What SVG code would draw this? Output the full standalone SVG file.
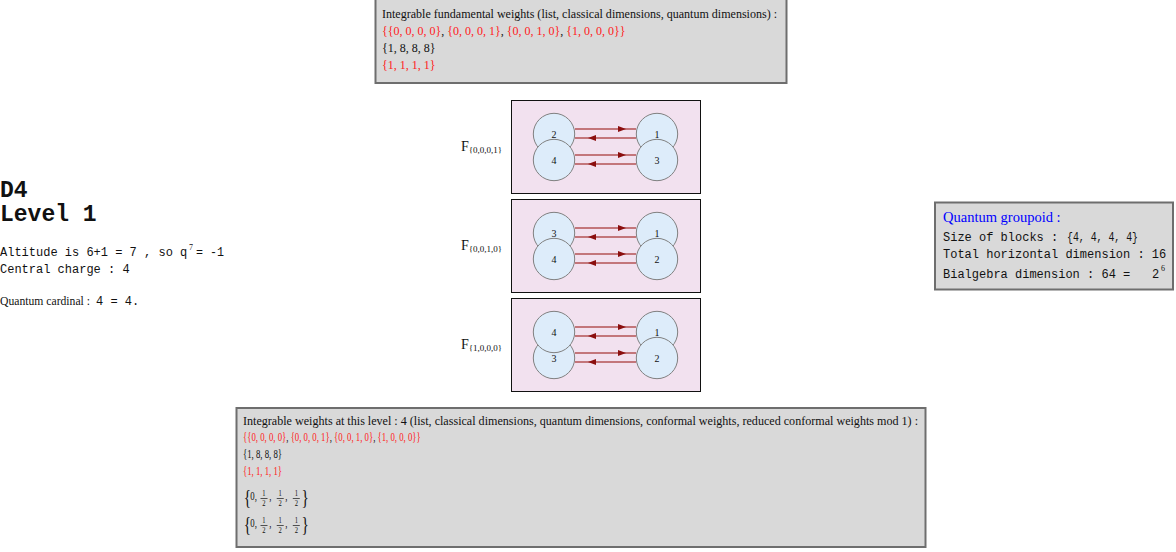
<svg xmlns="http://www.w3.org/2000/svg" width="1176" height="552" viewBox="0 0 1176 552">
<style>
.info{fill:#d9d9d9;stroke:#6e6e6e;stroke-width:2}
.panel{fill:#f2e1ef;stroke:#111;stroke-width:1}
.node circle{fill:#ddecfa;stroke:#808080;stroke-width:1}
.nl{font-family:"Liberation Serif",serif;font-size:10px;text-anchor:middle;fill:#111}
.s{font-family:"Liberation Serif",serif;font-size:12px;fill:#111}
.m{font-family:"Liberation Mono",monospace;font-size:12px;fill:#111}
.sup{font-family:"Liberation Serif",serif;font-size:8px;fill:#111}
.F{font-family:"Liberation Serif",serif;font-size:14px;fill:#111}
.sub{font-size:9px}
.r{fill:#ff1a1a}
.k{fill:#111}
.edge{fill:none;stroke:#a83a3a;stroke-width:1.3;stroke-opacity:0.85;marker-mid:url(#ah)}
.fr{font-family:"Liberation Serif",serif;font-size:9px;text-anchor:middle;fill:#111}
.br{font-family:"Liberation Serif",serif;font-size:21px;fill:#111}
</style>
<defs>
<marker id="ah" viewBox="0 0 8 6" refX="8" refY="3" markerWidth="8" markerHeight="6" markerUnits="userSpaceOnUse" orient="auto">
<path d="M0,0 L8,3 L0,6 Z" fill="#8b0f0f"/>
</marker>
</defs>
<rect width="1176" height="552" fill="#fff"/>

<g id="fundamental-weights">
<rect class="info" x="375.5" y="-1" width="411" height="84"/>
<text class="s" x="382" y="18" textLength="395" lengthAdjust="spacingAndGlyphs">Integrable fundamental weights (list, classical dimensions, quantum dimensions) :</text>
<text class="s" x="382" y="35"><tspan class="r">{{0, 0, 0, 0}</tspan><tspan class="k">, </tspan><tspan class="r">{0, 0, 0, 1}</tspan><tspan class="k">, </tspan><tspan class="r">{0, 0, 1, 0}</tspan><tspan class="k">, </tspan><tspan class="r">{1, 0, 0, 0}}</tspan></text>
<text class="s" x="382" y="52">{1, 8, 8, 8}</text>
<text class="s r" x="382" y="69">{1, 1, 1, 1}</text>
</g>

<g id="title">
<text x="0" y="197" font-family="Liberation Mono,monospace" font-size="23" font-weight="bold" fill="#111">D4</text>
<text x="0" y="221" font-family="Liberation Mono,monospace" font-size="23" font-weight="bold" fill="#111">Level 1</text>
<text class="m" x="0" y="256">Altitude is 6+1 = 7 , so q</text>
<text class="sup" x="189" y="250">7</text>
<text class="m" x="196" y="256" textLength="28" lengthAdjust="spacingAndGlyphs">= -1</text>
<text class="m" x="0" y="273">Central charge : 4</text>
<text class="s" x="0" y="305" textLength="90" lengthAdjust="spacingAndGlyphs">Quantum cardinal :</text>
<text class="m" x="96" y="305">4 = 4.</text>
</g>

<g id="quantum-groupoid">
<rect class="info" x="935" y="202.5" width="238" height="87"/>
<text x="943" y="222" font-family="Liberation Serif,serif" font-size="14.5" fill="#0000ff">Quantum groupoid :</text>
<text class="m" x="943" y="241">Size of blocks : </text>
<text class="m" x="1067" y="241" textLength="71" lengthAdjust="spacingAndGlyphs">{4, 4, 4, 4}</text>
<text class="m" x="943" y="258">Total horizontal dimension : 16</text>
<text class="m" x="943" y="278">Bialgebra dimension : 64 =</text>
<text class="m" x="1152" y="278">2</text>
<text class="sup" x="1161" y="271">6</text>
</g>

<g id="panel-F0001">
<rect class="panel" x="511.5" y="100.5" width="189" height="93"/>
<text class="F" x="461" y="151">F<tspan class="sub" dy="2">{0,0,0,1}</tspan></text>
</g>
<g id="panel-F0010">
<rect class="panel" x="511.5" y="199.5" width="189" height="93"/>
<text class="F" x="461" y="250">F<tspan class="sub" dy="2">{0,0,1,0}</tspan></text>
</g>
<g id="panel-F1000">
<rect class="panel" x="511.5" y="298.5" width="189" height="93"/>
<text class="F" x="461" y="349">F<tspan class="sub" dy="2">{1,0,0,0}</tspan></text>
</g>

<g id="connectors">
<path class="edge" d="M575,129 L626,129 L636,129"/>
<path class="edge" d="M636,138 L588,138 L575,138"/>
<path class="edge" d="M575,155 L626,155 L636,155"/>
<path class="edge" d="M636,164 L588,164 L575,164"/>
<path class="edge" d="M575,228 L626,228 L636,228"/>
<path class="edge" d="M636,237 L588,237 L575,237"/>
<path class="edge" d="M575,254 L626,254 L636,254"/>
<path class="edge" d="M636,263 L588,263 L575,263"/>
<path class="edge" d="M575,327 L626,327 L636,327"/>
<path class="edge" d="M636,336 L588,336 L575,336"/>
<path class="edge" d="M575,353 L626,353 L636,353"/>
<path class="edge" d="M636,362 L588,362 L575,362"/>
</g>

<g id="p1-n2" class="node"><circle cx="554" cy="134" r="20.7"/><text class="nl" x="554" y="138">2</text></g>
<g id="p1-n4" class="node"><circle cx="554" cy="160" r="20.7"/><text class="nl" x="554" y="164">4</text></g>
<g id="p1-n1" class="node"><circle cx="657" cy="134" r="20.7"/><text class="nl" x="657" y="138">1</text></g>
<g id="p1-n3" class="node"><circle cx="657" cy="160" r="20.7"/><text class="nl" x="657" y="164">3</text></g>
<g id="p2-n3" class="node"><circle cx="554" cy="233" r="20.7"/><text class="nl" x="554" y="237">3</text></g>
<g id="p2-n4" class="node"><circle cx="554" cy="259" r="20.7"/><text class="nl" x="554" y="263">4</text></g>
<g id="p2-n1" class="node"><circle cx="657" cy="233" r="20.7"/><text class="nl" x="657" y="237">1</text></g>
<g id="p2-n2" class="node"><circle cx="657" cy="259" r="20.7"/><text class="nl" x="657" y="263">2</text></g>
<g id="p3-n3" class="node"><circle cx="554" cy="358" r="20.7"/><text class="nl" x="554" y="362">3</text></g>
<g id="p3-n4" class="node"><circle cx="554" cy="332" r="20.7"/><text class="nl" x="554" y="336">4</text></g>
<g id="p3-n1" class="node"><circle cx="657" cy="332" r="20.7"/><text class="nl" x="657" y="336">1</text></g>
<g id="p3-n2" class="node"><circle cx="657" cy="358" r="20.7"/><text class="nl" x="657" y="362">2</text></g>

<g id="integrable-weights">
<rect class="info" x="236.5" y="408" width="689" height="139"/>
<text class="s" x="243" y="425" textLength="675" lengthAdjust="spacingAndGlyphs">Integrable weights at this level : 4 (list, classical dimensions, quantum dimensions, conformal weights, reduced conformal weights mod 1) :</text>
<g transform="translate(243 0) scale(0.73 1)">
<text class="s" x="0" y="441"><tspan class="r">{{0, 0, 0, 0}</tspan><tspan class="k">, </tspan><tspan class="r">{0, 0, 0, 1}</tspan><tspan class="k">, </tspan><tspan class="r">{0, 0, 1, 0}</tspan><tspan class="k">, </tspan><tspan class="r">{1, 0, 0, 0}}</tspan></text>
<text class="s" x="0" y="458">{1, 8, 8, 8}</text>
<text class="s r" x="0" y="475">{1, 1, 1, 1}</text>
<g id="conf1">
<text class="br" x="1" y="504">{</text>
<text class="s" x="10" y="500">0,</text>
<text class="fr" x="28.8" y="496">1</text><line x1="24" y1="498.5" x2="33.6" y2="498.5" stroke="#111" stroke-width="0.8"/><text class="fr" x="28.8" y="506">2</text>
<text class="s" x="36" y="500">,</text>
<text class="fr" x="51" y="496">1</text><line x1="46.2" y1="498.5" x2="55.8" y2="498.5" stroke="#111" stroke-width="0.8"/><text class="fr" x="51" y="506">2</text>
<text class="s" x="58" y="500">,</text>
<text class="fr" x="73" y="496">1</text><line x1="68.2" y1="498.5" x2="77.8" y2="498.5" stroke="#111" stroke-width="0.8"/><text class="fr" x="73" y="506">2</text>
<text class="br" x="80" y="504">}</text>
</g>
<g id="conf2" transform="translate(0 27)">
<text class="br" x="1" y="504">{</text>
<text class="s" x="10" y="500">0,</text>
<text class="fr" x="28.8" y="496">1</text><line x1="24" y1="498.5" x2="33.6" y2="498.5" stroke="#111" stroke-width="0.8"/><text class="fr" x="28.8" y="506">2</text>
<text class="s" x="36" y="500">,</text>
<text class="fr" x="51" y="496">1</text><line x1="46.2" y1="498.5" x2="55.8" y2="498.5" stroke="#111" stroke-width="0.8"/><text class="fr" x="51" y="506">2</text>
<text class="s" x="58" y="500">,</text>
<text class="fr" x="73" y="496">1</text><line x1="68.2" y1="498.5" x2="77.8" y2="498.5" stroke="#111" stroke-width="0.8"/><text class="fr" x="73" y="506">2</text>
<text class="br" x="80" y="504">}</text>
</g>
</g>
</g>
</svg>
